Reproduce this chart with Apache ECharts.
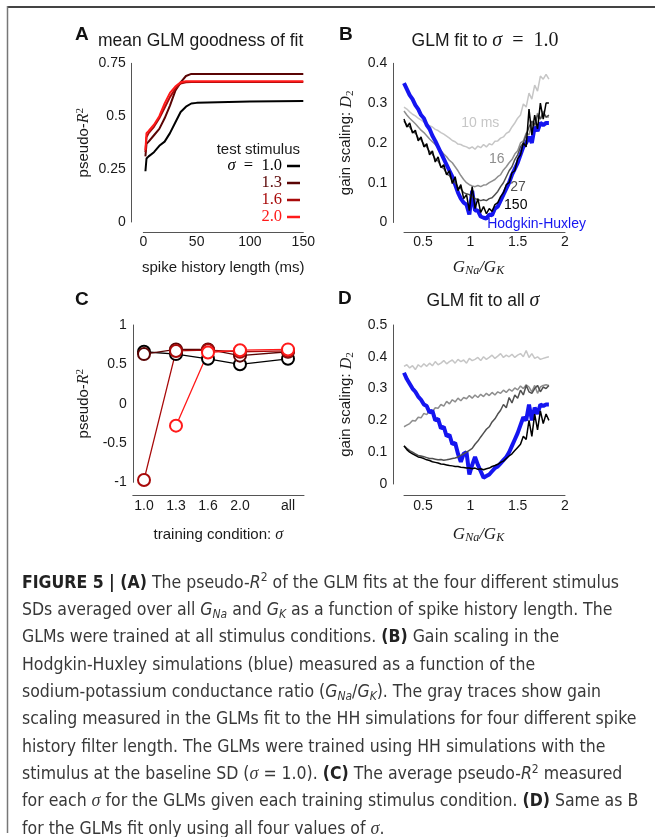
<!DOCTYPE html>
<html>
<head>
<meta charset="utf-8">
<script src="https://cdn.jsdelivr.net/npm/echarts@6/dist/echarts.min.js"></script>
<style>
html, body { margin: 0; padding: 0; background: #fff; }
#fig { width: 655px; height: 837px; }
</style>
</head>
<body>
<div id="fig"></div>
<script>
// ---- panel A: pseudo-R2 vs spike history length (ms)
const histLen = [2, 3, 5, 10, 15, 20, 25, 30, 35, 40, 45, 50, 60, 80, 100, 125, 150];
const fitS10 = [0.24, 0.30, 0.31, 0.33, 0.36, 0.38, 0.42, 0.47, 0.52, 0.545, 0.56, 0.563, 0.565, 0.567, 0.569, 0.571, 0.572];
const fitS13 = [0.31, 0.37, 0.38, 0.41, 0.44, 0.49, 0.55, 0.62, 0.66, 0.69, 0.70, 0.70, 0.70, 0.70, 0.70, 0.70, 0.70];
const fitS16 = [0.33, 0.40, 0.42, 0.45, 0.49, 0.54, 0.59, 0.63, 0.655, 0.66, 0.662, 0.662, 0.662, 0.662, 0.662, 0.662, 0.662];
const fitS20 = [0.34, 0.42, 0.43, 0.46, 0.50, 0.56, 0.61, 0.64, 0.66, 0.665, 0.665, 0.665, 0.665, 0.665, 0.665, 0.665, 0.665];
const sigmaTest = ['1.0', '1.3', '1.6', '2.0'];

// ---- panel C: pseudo-R2 per training condition
const trainCond = ['1.0', '1.3', '1.6', '2.0', 'all'];
const cTest10 = [0.66, 0.63, 0.57, 0.50, 0.57];
const cTest13 = [0.63, 0.69, 0.69, 0.61, 0.66];
const cTest16 = [-0.97, 0.67, 0.68, 0.66, 0.67];
const cTest20 = [null, -0.28, 0.65, 0.68, 0.69];

// ---- panels B, D: gain scaling D2 vs GNa/GK
const gRatio = [0.30, 0.33, 0.36, 0.39, 0.42, 0.45, 0.48, 0.51, 0.54, 0.57, 0.60, 0.63, 0.66, 0.69, 0.72, 0.75, 0.78, 0.81, 0.84, 0.87, 0.90, 0.93, 0.96, 0.99,
  1.02, 1.05, 1.08, 1.11, 1.14, 1.17, 1.20, 1.23, 1.26, 1.29, 1.32, 1.35, 1.38, 1.41, 1.44, 1.47, 1.50, 1.53, 1.56, 1.59, 1.62, 1.65, 1.68, 1.71, 1.74, 1.77, 1.80, 1.83];

const bH10 = [.29, .285, .278, .272, .268, .262, .258, .252, .248, .243, .240, .234, .231, .226, .222, .217, .212, .206, .203, .197, .196, .192, .190, .186,
  .190, .184, .192, .188, .196, .190, .198, .195, .204, .205, .212, .215, .224, .228, .240, .250, .262, .270, .298, .290, .325, .310, .345, .330, .368, .360, .372, .360];
const bH16 = [.28, .27, .262, .255, .248, .24, .232, .226, .218, .21, .203, .196, .188, .18, .172, .165, .156, .15, .14, .13, .118, .108, .1, .095,
  .092, .09, .093, .09, .094, .095, .1, .104, .108, .115, .12, .132, .14, .15, .158, .172, .18, .2, .205, .225, .22, .25, .24, .275, .26, .28, .265, .265];
const bH27 = [.255, .245, .24, .228, .225, .212, .208, .196, .19, .178, .172, .16, .155, .14, .136, .122, .118, .105, .1, .088, .085, .075, .072, .07,
  .065, .06, .058, .055, .057, .055, .06, .062, .07, .078, .09, .1, .115, .13, .14, .158, .17, .19, .2, .22, .24, .255, .245, .27, .26, .275, .265, .27];
const bH150 = [.26, .24, .25, .225, .232, .205, .215, .19, .198, .17, .18, .152, .165, .138, .145, .12, .13, .098, .115, .08, .095, .06, .07, .03,
  .09, .035, .06, .025, .04, .022, .035, .028, .045, .05, .065, .075, .095, .1, .125, .13, .16, .17, .2, .19, .285, .22, .27, .235, .3, .26, .3, .3];
const bHH = [.35, .335, .32, .31, .295, .285, .27, .262, .245, .235, .218, .205, .19, .175, .16, .145, .13, .115, .095, .075, .06, .05, .045, .02,
  .08, .03, .03, .015, .012, .01, .02, .018, .035, .04, .055, .07, .085, .1, .12, .135, .15, .17, .19, .2, .215, .2, .24, .23, .25, .245, .25, .25];

const dH10 = [.37, .375, .365, .372, .36, .375, .368, .378, .37, .38, .372, .385, .375, .38, .388, .378, .385, .39, .38, .392, .385, .39, .38, .395,
  .388, .392, .398, .388, .4, .392, .398, .405, .395, .402, .41, .398, .405, .4, .408, .398, .405, .41, .4, .42, .398, .41, .395, .4, .392, .395, .398, .4];
const dH16 = [.18, .185, .19, .2, .198, .21, .208, .222, .218, .232, .228, .24, .238, .25, .245, .26, .252, .265, .258, .27, .262, .272, .268, .278,
  .27, .28, .272, .282, .275, .285, .278, .288, .28, .29, .285, .295, .288, .298, .292, .302, .296, .308, .3, .312, .305, .29, .31, .285, .305, .31, .312, .31];
const dH27 = [.12, .112, .105, .1, .095, .09, .088, .086, .083, .08, .08, .078, .076, .077, .075, .076, .078, .08, .082, .085, .09, .095, .1, .106,
  .112, .125, .135, .148, .16, .172, .18, .195, .205, .22, .232, .25, .24, .272, .255, .28, .27, .295, .28, .31, .29, .285, .3, .31, .29, .305, .3, .31];
const dH150 = [.12, .108, .1, .095, .09, .085, .083, .08, .076, .074, .07, .068, .066, .063, .062, .06, .058, .057, .055, .055, .053, .052, .05, .05,
  .048, .05, .046, .048, .045, .048, .05, .055, .058, .062, .068, .072, .08, .088, .095, .105, .115, .125, .15, .14, .2, .15, .22, .17, .23, .19, .22, .2];
const dHH = [.35, .33, .315, .3, .29, .275, .265, .25, .245, .225, .23, .2, .205, .175, .18, .15, .155, .125, .13, .095, .07, .095, .1, .03,
  .06, .085, .06, .04, .02, .025, .03, .04, .05, .055, .065, .075, .085, .1, .12, .14, .16, .185, .21, .2, .25, .2, .24, .22, .25, .245, .25, .25];

const SANS = "'Liberation Sans', Arial, Helvetica, sans-serif";
const SERIF = "'Liberation Serif', 'DejaVu Serif', serif";
const NARROW = "'Liberation Sans Narrow', 'DejaVu Sans Condensed', 'Arial Narrow', sans-serif";
const INK = '#1a1a1a';
const EQ = '\u2002=\u2002';
const sigmaColor = ['#000000', '#5a0404', '#a80a0a', '#ff1a1a'];
const traceColor = { h10: '#c6c6c6', h16: '#8e8e8e', h27: '#505050', h150: '#000000', hh: '#1515f0' };

function zip(xs, ys) { return xs.map((x, i) => [x, ys[i]]); }
const condPos = trainCond.map((c, i) => (c === 'all' ? 4.5 : i));

const mathRich = {
  i: { fontFamily: SERIF, fontStyle: 'italic', fontSize: 16, color: INK },
  gi: { fontFamily: SERIF, fontStyle: 'italic', fontSize: 17, color: INK },
  sup: { fontFamily: SERIF, fontSize: 11, color: INK, lineHeight: 11, padding: [0, 0, 7, 0] },
  sub: { fontFamily: SERIF, fontSize: 11, color: INK, lineHeight: 11, padding: [7, 0, 0, 0] },
  subi: { fontFamily: SERIF, fontStyle: 'italic', fontSize: 12, color: INK, lineHeight: 12, padding: [7, 0, 0, 0] }
};
const nameStyle = { color: INK, fontSize: 15, fontFamily: SANS, rich: mathRich };
const gnaStyle = Object.assign({}, nameStyle, { padding: [0, 12, 0, 0] });

function xAx(grid, extra) {
  return Object.assign({
    type: 'value', gridIndex: grid,
    splitLine: { show: false }, axisTick: { show: false },
    axisLine: { show: true, onZero: false, lineStyle: { color: '#555', width: 1 } },
    axisLabel: { color: INK, fontSize: 14, fontFamily: SANS, margin: 3 },
    nameLocation: 'middle', nameTextStyle: nameStyle
  }, extra);
}
function yAx(grid, extra) {
  return Object.assign({
    type: 'value', gridIndex: grid,
    splitLine: { show: false }, axisTick: { show: false },
    axisLine: { show: true, onZero: false, lineStyle: { color: '#555', width: 1 } },
    axisLabel: { color: INK, fontSize: 14, fontFamily: SANS, margin: 6 },
    nameLocation: 'middle', nameRotate: 90, nameTextStyle: nameStyle
  }, extra);
}

const series = [];
[fitS10, fitS13, fitS16, fitS20].forEach((vals, k) => {
  series.push({
    name: sigmaTest[k], type: 'line', xAxisIndex: 0, yAxisIndex: 0,
    data: zip(histLen, vals), showSymbol: false,
    lineStyle: { color: sigmaColor[k], width: 2 }, itemStyle: { color: sigmaColor[k] }
  });
});
[cTest10, cTest13, cTest16, cTest20].forEach((vals, k) => {
  series.push({
    name: sigmaTest[k], type: 'line', xAxisIndex: 2, yAxisIndex: 2,
    data: zip(condPos, vals), symbol: 'emptyCircle', symbolSize: 12,
    lineStyle: { color: sigmaColor[k], width: 1.3 },
    itemStyle: { color: sigmaColor[k], borderColor: sigmaColor[k], borderWidth: 1.5 }
  });
});

function gainSeries(ax, vals, color, width, label) {
  const s = {
    type: 'line', xAxisIndex: ax, yAxisIndex: ax, data: zip(gRatio, vals),
    showSymbol: false, lineStyle: { color: color, width: width }, itemStyle: { color: color }
  };
  if (label) {
    s.markPoint = {
      symbol: 'circle', symbolSize: 0, silent: true,
      label: { show: true, position: 'inside', formatter: label.text, color: color, fontSize: 14, fontFamily: SANS,
        offset: label.offset || [0, 0] },
      data: [{ coord: label.at }]
    };
  }
  return s;
}
series.push(gainSeries(1, bH10, traceColor.h10, 1.5, { text: '10 ms', at: [1.105, 0.249] }));
series.push(gainSeries(1, bH16, traceColor.h16, 1.5, { text: '16', at: [1.28, 0.16] }));
series.push(gainSeries(1, bHH, traceColor.hh, 4, { text: 'Hodgkin-Huxley', at: [1.70, 0], offset: [0, 2] }));
series.push(gainSeries(1, bH27, traceColor.h27, 1.5, { text: '27', at: [1.505, 0.088] }));
series.push(gainSeries(1, bH150, traceColor.h150, 1.5, { text: '150', at: [1.48, 0.044] }));
series.push(gainSeries(3, dH10, traceColor.h10, 1.5));
series.push(gainSeries(3, dH16, traceColor.h16, 1.5));
series.push(gainSeries(3, dHH, traceColor.hh, 4));
series.push(gainSeries(3, dH27, traceColor.h27, 1.5));
series.push(gainSeries(3, dH150, traceColor.h150, 1.5));

const gnaName = '{gi|G}{subi|Na}{gi|/}{gi|G}{subi|K}';

const legendRich = { mi: { fontFamily: SERIF, fontStyle: 'italic', fontSize: 16.5, color: sigmaColor[0] } };
sigmaTest.forEach((s, k) => {
  legendRich['m' + k] = { fontFamily: SERIF, fontSize: 16.5, color: sigmaColor[k] };
});

function txt(x, y, text, extra) {
  return {
    type: 'text', x: x, y: y, silent: true,
    style: Object.assign({
      text: text, fill: INK, fontSize: 15, fontFamily: SANS,
      align: 'left', verticalAlign: 'middle', textAlign: 'left', textVerticalAlign: 'middle'
    }, extra)
  };
}
const CAP_SIZE = 17.5;
function cap(style) {
  return Object.assign({ fontSize: CAP_SIZE, fontFamily: NARROW, fill: '#383838' }, style);
}
const captionRich = {
  b: cap({ fontWeight: 'bold', fill: '#222' }),
  i: cap({ fontStyle: 'italic' }),
  si: { fontFamily: SERIF, fontStyle: 'italic', fontSize: 18, fill: '#383838' },
  sup: cap({ fontSize: 12, lineHeight: 12, padding: [0, 0, 10, 0] }),
  sub: cap({ fontSize: 12, fontStyle: 'italic', lineHeight: 12, padding: [8, 0, 0, 0] })
};
const captionText = [
  '{b|FIGURE 5 | (A)} The pseudo-{i|R}{sup|2} of the GLM fits at the four different stimulus',
  'SDs averaged over all {i|G}{sub|Na} and {i|G}{sub|K} as a function of spike history length. The',
  'GLMs were trained at all stimulus conditions. {b|(B)} Gain scaling in the',
  'Hodgkin-Huxley simulations (blue) measured as a function of the',
  'sodium-potassium conductance ratio ({i|G}{sub|Na}/{i|G}{sub|K}). The gray traces show gain',
  'scaling measured in the GLMs fit to the HH simulations for four different spike',
  'history filter length. The GLMs were trained using HH simulations with the',
  'stimulus at the baseline SD ({si|\u03c3} = 1.0). {b|(C)} The average pseudo-{i|R}{sup|2} measured',
  'for each {si|\u03c3} for the GLMs given each training stimulus condition. {b|(D)} Same as B',
  'for the GLMs fit only using all four values of {si|\u03c3}.'
].join('\n');

const titleRich = {
  s: { fontFamily: SANS, fontSize: 17.5, fill: INK },
  mi: { fontFamily: SERIF, fontStyle: 'italic', fontSize: 20, fill: INK },
  m: { fontFamily: SERIF, fontSize: 20, fill: INK }
};

const option = {
  animation: false,
  backgroundColor: '#ffffff',
  textStyle: { fontFamily: SANS },
  grid: [
    { left: 143.3, top: 63.3, width: 160, height: 158.7 },
    { left: 404, top: 63.3, width: 161, height: 159.2 },
    { left: 132.8, top: 325, width: 171.2, height: 157.3 },
    { left: 404, top: 325, width: 161, height: 159 }
  ],
  xAxis: [
    xAx(0, { min: 0, max: 150, interval: 50, offset: 10, name: 'spike history length (ms)', nameGap: 28 }),
    xAx(1, { min: 0.3, max: 2, offset: 9.8, name: gnaName, nameGap: 27, nameTextStyle: gnaStyle,
      axisLabel: { color: INK, fontSize: 14, fontFamily: SANS, margin: 3, customValues: [0.5, 1, 1.5, 2] } }),
    xAx(2, { min: -0.35, max: 5, offset: 12.7, name: 'training condition: {i|\u03c3}', nameGap: 32,
      axisLabel: { color: INK, fontSize: 14, fontFamily: SANS, margin: 4, customValues: condPos,
        formatter: v => trainCond[condPos.indexOf(v)] } }),
    xAx(3, { min: 0.3, max: 2, offset: 11, name: gnaName, nameGap: 31, nameTextStyle: gnaStyle,
      axisLabel: { color: INK, fontSize: 14, fontFamily: SANS, margin: 4, customValues: [0.5, 1, 1.5, 2] } })
  ],
  yAxis: [
    yAx(0, { min: 0, max: 0.75, interval: 0.25, offset: 11.6, name: 'pseudo-{i|R}{sup|2}', nameGap: 40 }),
    yAx(1, { min: 0, max: 0.4, interval: 0.1, offset: 10.7, name: 'gain scaling: {i|D}{sub|2}', nameGap: 39 }),
    yAx(2, { min: -1, max: 1, interval: 0.5, offset: 0, name: 'pseudo-{i|R}{sup|2}', nameGap: 41 }),
    yAx(3, { min: 0, max: 0.5, interval: 0.1, offset: 10.7, name: 'gain scaling: {i|D}{sub|2}', nameGap: 39 })
  ],
  legend: {
    orient: 'vertical', align: 'right', right: 355, top: 157.5, padding: 0,
    itemGap: 0, itemWidth: 13, itemHeight: 2.5, icon: 'rect', selectedMode: false,
    data: sigmaTest,
    formatter: name => {
      const k = sigmaTest.indexOf(name);
      return k === 0 ? '{mi|\u03c3}{m0|' + EQ + '1.0}' : '{m' + k + '|' + name + '}';
    },
    textStyle: { fontSize: 16.5, fontFamily: SERIF, lineHeight: 15.3, rich: legendRich }
  },
  series: series,
  graphic: [
    { type: 'line', silent: true, shape: { x1: 7, y1: 7, x2: 655, y2: 7 }, style: { stroke: '#444', lineWidth: 2 } },
    { type: 'line', silent: true, shape: { x1: 7.5, y1: 6, x2: 7.5, y2: 833 }, style: { stroke: '#777', lineWidth: 1.5 } },
    txt(75, 35, 'A', { fontSize: 19, fontWeight: 'bold', fill: '#111' }),
    txt(98, 41, 'mean GLM goodness of fit', { fontSize: 17.5 }),
    txt(339, 35, 'B', { fontSize: 19, fontWeight: 'bold', fill: '#111' }),
    txt(485, 41, '{s|GLM fit to }{mi|\u03c3}{m|' + EQ + '1.0}', { align: 'center', textAlign: 'center', rich: titleRich }),
    txt(75, 300, 'C', { fontSize: 19, fontWeight: 'bold', fill: '#111' }),
    txt(338, 299, 'D', { fontSize: 19, fontWeight: 'bold', fill: '#111' }),
    txt(483, 301, '{s|GLM fit to all }{mi|\u03c3}', { align: 'center', textAlign: 'center', rich: titleRich }),
    txt(300, 150, 'test stimulus', { align: 'right', textAlign: 'right' }),
    {
      type: 'text', x: 22, y: 569.7, silent: true,
      style: {
        text: captionText, fontSize: CAP_SIZE, fontFamily: NARROW, fill: '#383838', lineHeight: 27.3,
        align: 'left', verticalAlign: 'top', textAlign: 'left', textVerticalAlign: 'top', rich: captionRich
      }
    }
  ]
};

const chart = echarts.init(document.getElementById('fig'), null, { renderer: 'canvas' });
chart.setOption(option);
</script>
</body>
</html>
